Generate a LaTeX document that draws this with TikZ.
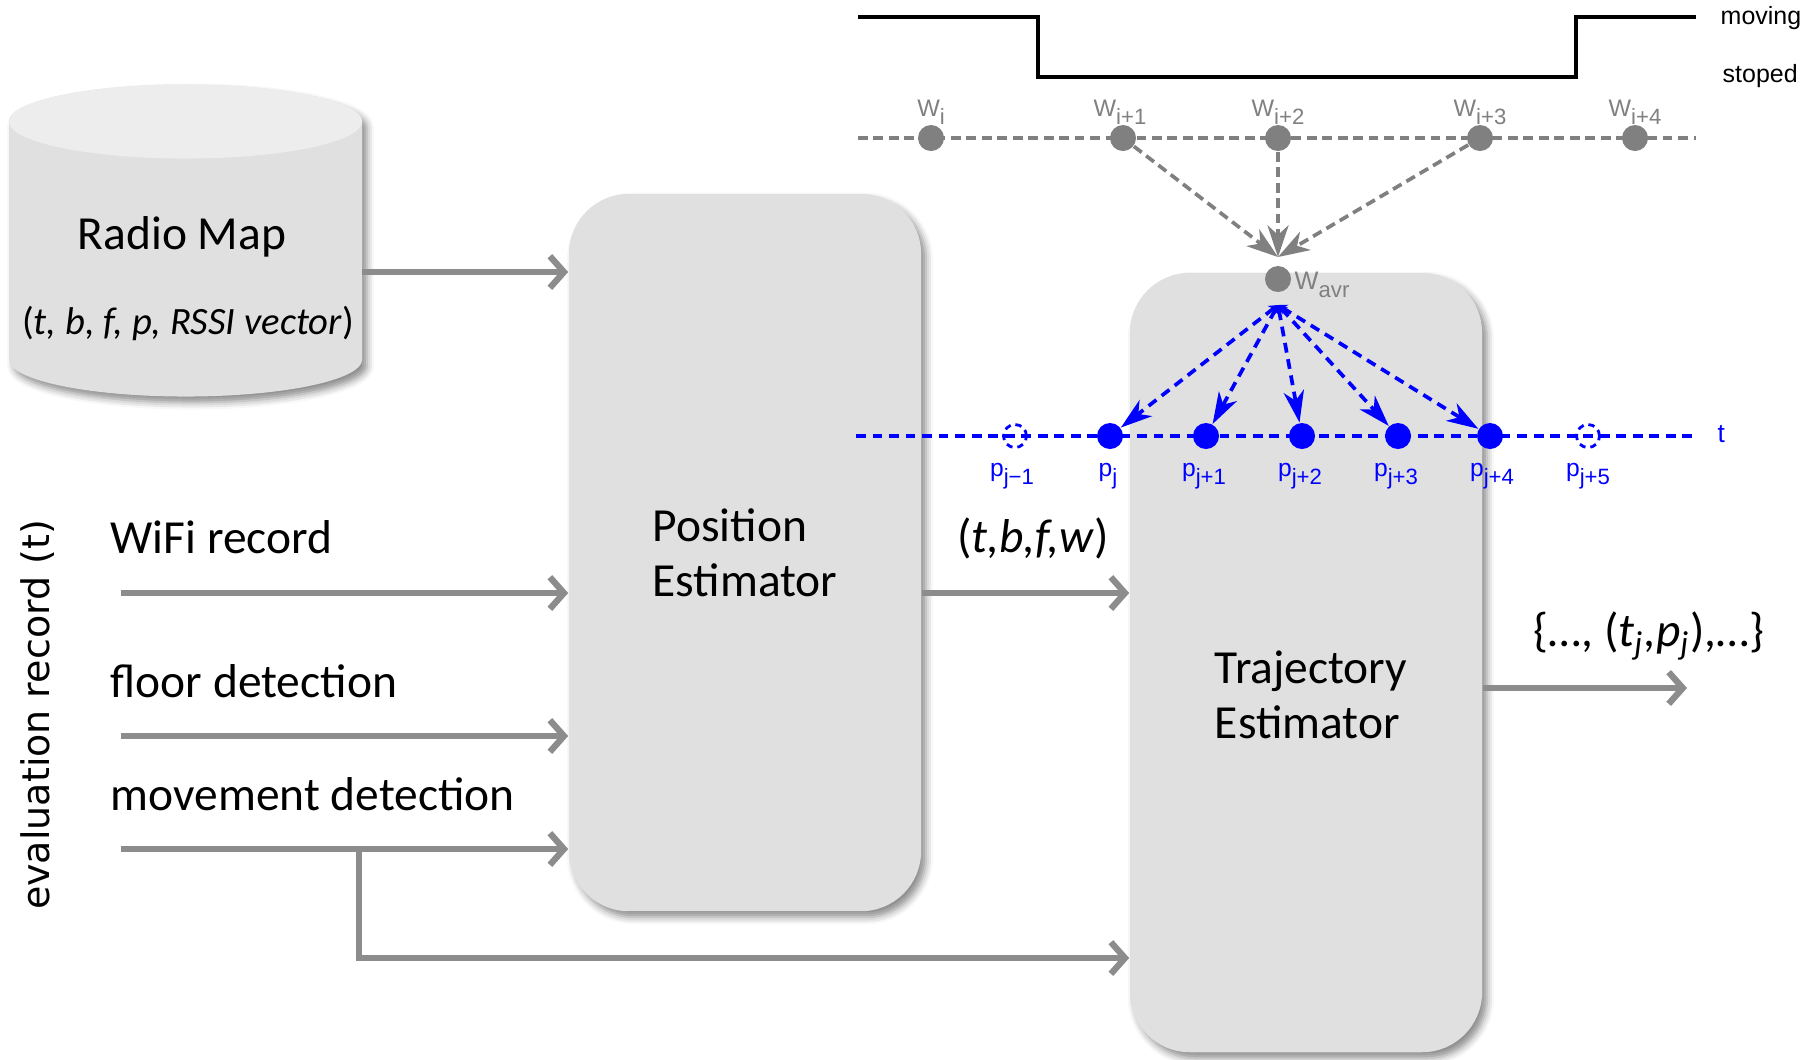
\documentclass[tikz,border=0pt]{standalone}
\usepackage{fontspec}
\setmainfont{Carlito}
\newfontfamily\helv{Liberation Sans}
\newfontfamily\vera{DejaVu Sans}
\usetikzlibrary{arrows.meta}
\usetikzlibrary{shadows.blur}
\definecolor{flowgray}{RGB}{140,140,140}
\definecolor{boxgray}{RGB}{224,224,224}
\definecolor{topgray}{RGB}{237,237,237}
\definecolor{wgray}{RGB}{128,128,128}
\newcommand{\lsub}[1]{\raisebox{-2.4pt}{\fontsize{6.3}{6.3}\selectfont #1}}
\tikzset{
  flow/.style={flowgray, line width=1.8pt, -{Straight Barb[length=4pt,width=9pt]}},
  softshadow/.style={blur shadow={shadow xshift=0.05cm, shadow yshift=-0.06cm, shadow blur radius=0.07cm, shadow opacity=45}},
  estbox/.style={fill=boxgray, rounded corners=0.6cm, minimum width=3.52cm, softshadow},
  bigtext/.style={font=\fontsize{13.5}{15.7}\selectfont, inner sep=0pt},
  wdot/.style={circle, fill=wgray, inner sep=0pt, minimum size=0.26cm},
  pdot/.style={circle, fill=blue, inner sep=0pt, minimum size=0.26cm},
  pgap/.style={circle, draw=blue, dash pattern=on 1.8pt off 1.4pt, line width=0.8pt, inner sep=0pt, minimum size=0.23cm},
  wlab/.style={font=\helv\fontsize{6.8}{6.8}\selectfont, text=wgray, anchor=base, inner sep=0pt},
  plab/.style={font=\helv\fontsize{7}{7}\selectfont, text=blue, anchor=base, inner sep=0pt},
  statelab/.style={font=\helv\fontsize{7.1}{7.1}\selectfont, anchor=base west, inner sep=0pt},
  wline/.style={wgray, line width=1.05pt, dash pattern=on 2.8pt off 1.6pt},
  pline/.style={blue, line width=1.05pt, dash pattern=on 2.8pt off 1.9pt},
  warrow/.style={wline, -{Stealth[length=9pt,width=6pt,inset=2.7pt]}},
  parrow/.style={pline, {Stealth[length=2.5pt,width=3.2pt]}-{Stealth[length=9pt,width=5.8pt,inset=2.7pt]}},
}
\begin{document}
\begin{tikzpicture}[x=0.01cm, y=-0.01cm]
\useasboundingbox (0,0) rectangle (1808,1059);
\path[fill=boxgray, softshadow] (9,121.5) -- (9,359.5) arc[start angle=180, end angle=360, x radius=1.765cm, y radius=0.37cm] -- (362,121.5) arc[start angle=0, end angle=180, x radius=1.765cm, y radius=0.37cm] -- cycle;
\fill[topgray] (185.5,121.5) ellipse[x radius=1.765cm, y radius=0.37cm];
\node[bigtext] (maptitle) at (182,237) {Radio Map};
\node[bigtext, font=\fontsize{11}{13}\selectfont] (mapkeys) at (188,323) {(\textit{t, b, f, p, RSSI vector})};
\node[estbox, bigtext, align=left, minimum height=7.17cm] (pe) at (745,552.5) {Position\\Estimator};
\node[estbox, minimum height=7.79cm] (te) at (1306,662.5) {};
\node[bigtext, align=left] (tetext) at (1311,695) {Trajectory\\Estimator};
\coordinate (mapout) at (362,272);
\draw[flow] (mapout) -- (mapout -| pe.west);
\node[font=\vera\fontsize{10.8}{10.8}\selectfont, rotate=90, inner sep=0pt] (evalrec) at (38,715) {evaluation record (t)};
\node[bigtext, anchor=base west] (wifi) at (110,553) {WiFi record};
\node[bigtext, anchor=base west] (floor) at (110,697) {floor detection};
\node[bigtext, anchor=base west] (move) at (110,810) {movement detection};
\coordinate (wifiin) at (121,593);
\coordinate (floorin) at (121,736);
\coordinate (movein) at (121,849);
\coordinate (branch) at (359,849);
\coordinate (backlow) at (359,958);
\draw[flow] (wifiin) -- (wifiin -| pe.west);
\draw[flow] (floorin) -- (floorin -| pe.west);
\draw[flow] (movein) -- (movein -| pe.west);
\draw[flow] (branch) -- (backlow) -- (backlow -| te.west);
\draw[flow] (pe.east |- wifiin) -- (te.west |- wifiin);
\node[bigtext] (pwlab) at (1033,538) {(\textit{t,b,f,w})};
\coordinate (trajend) at (1687,688);
\draw[flow] (trajend -| te.east) -- (trajend);
\node[bigtext] (trajlab) at (1649,636) {\{\ldots, (\textit{t\textsubscript{j},p\textsubscript{j}}),\ldots\}};
\draw[line width=1pt] (858,17) -- (1038,17) -- (1038,77) -- (1576,77) -- (1576,17) -- (1696,17);
\node[statelab] (moving) at (1720,24) {moving};
\node[statelab] (stoped) at (1722,82) {stoped};
\draw[wline] (858,138) -- (1696,138);
\node[wdot] (w0) at (931,138) {};
\node[wdot] (w1) at (1123,138) {};
\node[wdot] (w2) at (1278,138) {};
\node[wdot] (w3) at (1480,138) {};
\node[wdot] (w4) at (1635,138) {};
\node[wlab] (w0lab) at (931,116) {W\lsub{i}};
\node[wlab] (w1lab) at (1120,116) {W\lsub{i+1}};
\node[wlab] (w2lab) at (1278,116) {W\lsub{i+2}};
\node[wlab] (w3lab) at (1480,116) {W\lsub{i+3}};
\node[wlab] (w4lab) at (1635,116) {W\lsub{i+4}};
\node[wdot] (wavr) at (1278,279) {};
\node[wlab, anchor=base west, font=\helv\fontsize{7.2}{7.2}\selectfont] (wavrlab) at (1294,289) {W\lsub{avr}};
\coordinate (wtip) at (1278,257);
\draw[warrow] (w1) -- (wtip);
\draw[warrow] (w2) -- (wtip);
\draw[warrow] (w3) -- (wtip);
\draw[pline] (856,436) -- (1696,436);
\node[font=\helv\fontsize{7.5}{7.5}\selectfont, text=blue, anchor=west, inner sep=0pt] (tlab) at (1717,434) {t};
\node[pgap] (pm1) at (1015,436) {};
\node[pdot] (p0) at (1110,436) {};
\node[pdot] (p1) at (1206,436) {};
\node[pdot] (p2) at (1302,436) {};
\node[pdot] (p3) at (1398,436) {};
\node[pdot] (p4) at (1490,436) {};
\node[pgap] (p5) at (1588,436) {};
\node[plab] (pm1lab) at (1012,476) {p\lsub{j−1}};
\node[plab] (p0lab) at (1108,476) {p\lsub{j}};
\node[plab] (p1lab) at (1204,476) {p\lsub{j+1}};
\node[plab] (p2lab) at (1300,476) {p\lsub{j+2}};
\node[plab] (p3lab) at (1396,476) {p\lsub{j+3}};
\node[plab] (p4lab) at (1492,476) {p\lsub{j+4}};
\node[plab] (p5lab) at (1588,476) {p\lsub{j+5}};
\coordinate (ptop) at (1278,305);
\draw[parrow] (ptop) -- (p0);
\draw[parrow] (ptop) -- (p1);
\draw[parrow] (ptop) -- (p2);
\draw[parrow] (ptop) -- (p3);
\draw[parrow] (ptop) -- (p4);
\end{tikzpicture}
\end{document}
